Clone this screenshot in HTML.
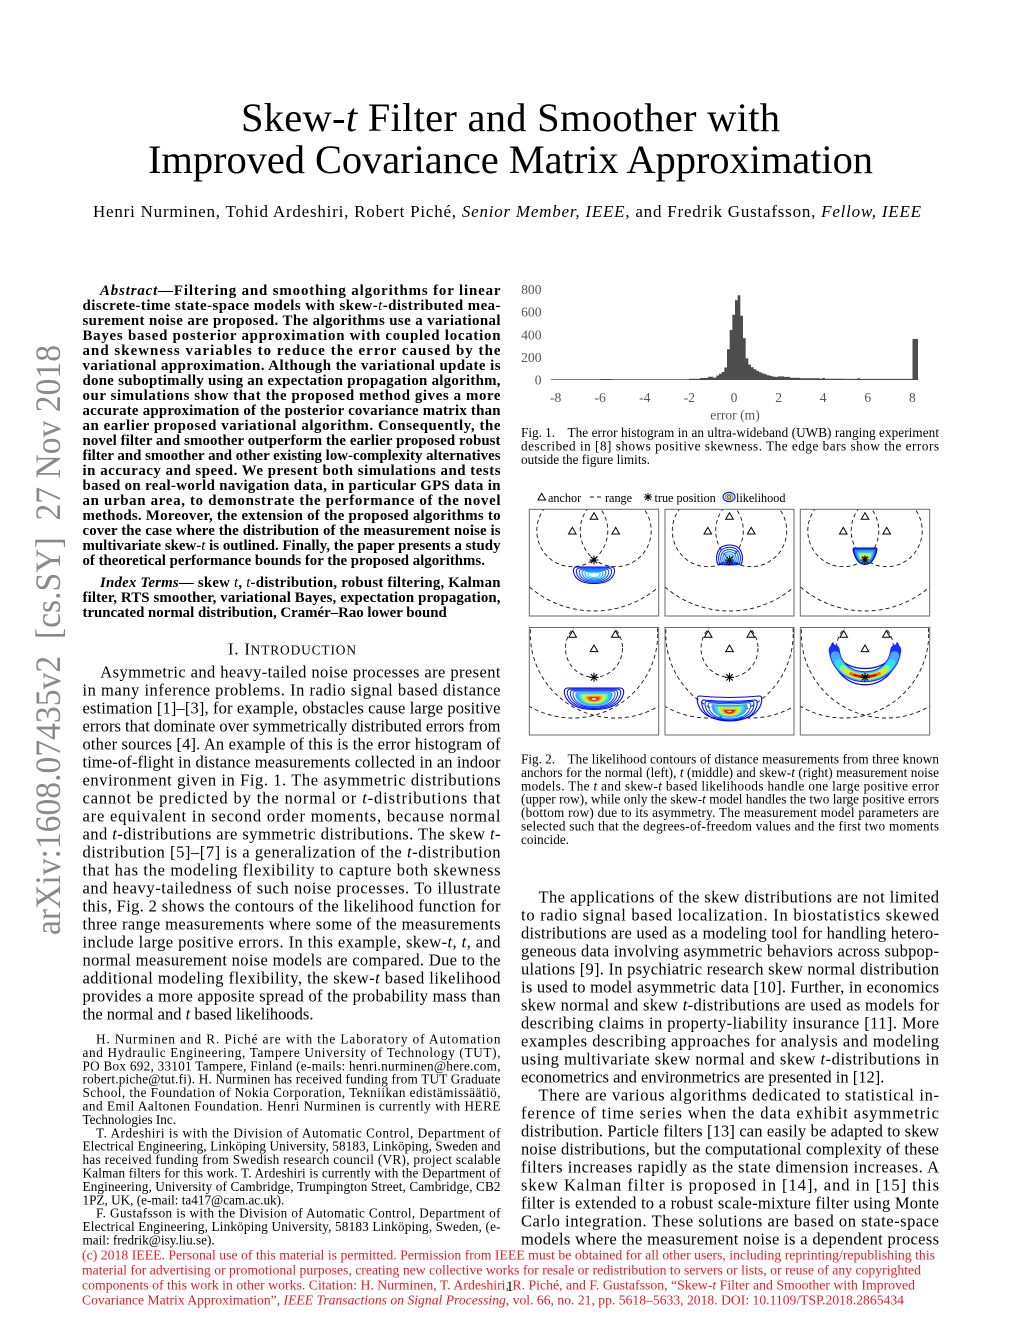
<!DOCTYPE html>
<html>
<head>
<meta charset="utf-8">
<style>
html,body{margin:0;padding:0;background:#fff;}
svg{display:block;}
text{font-family:"Liberation Serif","DejaVu Serif",serif;fill:#000;}
.bd{font-size:16.5px;}
.ab{font-size:14.85px;font-weight:bold;}
.fn{font-size:13.2px;}
.cp{font-size:13.2px;}
.ft{font-size:14px;fill:#e21f26;}
.i{font-style:italic;}
.in{font-style:italic;font-weight:normal;}
.ax{font-size:13.6px;fill:#555;}
.lg{font-size:12.2px;}
.ds{fill:none;stroke:#111;stroke-width:0.9;stroke-dasharray:4 3;}
.tri{fill:none;stroke:#000;stroke-width:1;}
.ast{fill:none;stroke:#000;stroke-width:1.1;}
.frm{fill:none;stroke:#6a6a6a;stroke-width:1;}
</style>
</head>
<body>
<svg width="1020" height="1320" viewBox="0 0 1020 1320" xmlns="http://www.w3.org/2000/svg">
<rect x="0" y="0" width="1020" height="1320" fill="#fff"/>
<defs>
  <clipPath id="c1"><rect x="529.3" y="509.3" width="129.4" height="106.7"/></clipPath>
  <clipPath id="c2"><rect x="665" y="509.3" width="129" height="106.7"/></clipPath>
  <clipPath id="c3"><rect x="800.3" y="509.3" width="129.4" height="106.7"/></clipPath>
  <clipPath id="c4"><rect x="529.3" y="627.5" width="129.4" height="107.5"/></clipPath>
  <clipPath id="c5"><rect x="665" y="627.5" width="129" height="107.5"/></clipPath>
  <clipPath id="c6"><rect x="800.3" y="627.5" width="129.4" height="107.5"/></clipPath>
  <g id="tb">
    <ellipse cx="572.3" cy="530.7" rx="35.5" ry="36" class="ds"/>
    <ellipse cx="615.7" cy="530.7" rx="35.5" ry="36" class="ds"/>
    <ellipse cx="594" cy="516" rx="97" ry="95" class="ds"/>
    <path class="tri" d="M590.2,519.3 L594,512.7 L597.8,519.3 Z M568.5,534 L572.3,527.4 L576.1,534 Z M611.9,534 L615.7,527.4 L619.5,534 Z"/>
  </g>
  <g id="bb">
    <ellipse cx="594" cy="648.3" rx="28.5" ry="29" class="ds"/>
    <ellipse cx="572.7" cy="634" rx="85" ry="84" class="ds"/>
    <ellipse cx="615.3" cy="634" rx="85" ry="84" class="ds"/>
    <path class="tri" d="M568.9,637.3 L572.7,630.7 L576.5,637.3 Z M611.5,637.3 L615.3,630.7 L619.1,637.3 Z M590.2,651.6 L594,645 L597.8,651.6 Z"/>
  </g>
  <path id="as" class="ast" d="M-4.5,0 H4.5 M0,-4.5 V4.5 M-3.2,-3.2 L3.2,3.2 M-3.2,3.2 L3.2,-3.2"/>
</defs>

<!-- arXiv sidebar -->
<text transform="translate(60,935) rotate(-90)" font-size="36" style="fill:#8a8a8a" textLength="590" lengthAdjust="spacingAndGlyphs">arXiv:1608.07435v2&#160;&#160;[cs.SY]&#160;&#160;27 Nov 2018</text>

<!-- Title -->
<text x="241" y="131" font-size="40.5" textLength="539">Skew-<tspan class="i">t</tspan> Filter and Smoother with</text>
<text x="148" y="173" font-size="40.5" textLength="725">Improved Covariance Matrix Approximation</text>
<text x="93" y="217" font-size="17" textLength="828">Henri Nurminen, Tohid Ardeshiri, Robert Piché, <tspan class="i">Senior Member, IEEE</tspan>, and Fredrik Gustafsson, <tspan class="i">Fellow, IEEE</tspan></text>

<!-- Abstract -->
<text class="ab" x="100" y="295" textLength="400.5"><tspan class="i">Abstract</tspan>—Filtering and smoothing algorithms for linear</text>
<text class="ab" x="82.5" y="310" textLength="418">discrete-time state-space models with skew-<tspan class="in">t</tspan>-distributed mea-</text>
<text class="ab" x="82.5" y="325" textLength="418">surement noise are proposed. The algorithms use a variational</text>
<text class="ab" x="82.5" y="340" textLength="418">Bayes based posterior approximation with coupled location</text>
<text class="ab" x="82.5" y="355" textLength="418">and skewness variables to reduce the error caused by the</text>
<text class="ab" x="82.5" y="370" textLength="418">variational approximation. Although the variational update is</text>
<text class="ab" x="82.5" y="385" textLength="418">done suboptimally using an expectation propagation algorithm,</text>
<text class="ab" x="82.5" y="400" textLength="418">our simulations show that the proposed method gives a more</text>
<text class="ab" x="82.5" y="415" textLength="418">accurate approximation of the posterior covariance matrix than</text>
<text class="ab" x="82.5" y="430" textLength="418">an earlier proposed variational algorithm. Consequently, the</text>
<text class="ab" x="82.5" y="445" textLength="418">novel filter and smoother outperform the earlier proposed robust</text>
<text class="ab" x="82.5" y="460" textLength="418">filter and smoother and other existing low-complexity alternatives</text>
<text class="ab" x="82.5" y="475" textLength="418">in accuracy and speed. We present both simulations and tests</text>
<text class="ab" x="82.5" y="490" textLength="418">based on real-world navigation data, in particular GPS data in</text>
<text class="ab" x="82.5" y="505" textLength="418">an urban area, to demonstrate the performance of the novel</text>
<text class="ab" x="82.5" y="520" textLength="418">methods. Moreover, the extension of the proposed algorithms to</text>
<text class="ab" x="82.5" y="535" textLength="418">cover the case where the distribution of the measurement noise is</text>
<text class="ab" x="82.5" y="550" textLength="418">multivariate skew-<tspan class="in">t</tspan> is outlined. Finally, the paper presents a study</text>
<text class="ab" x="82.5" y="565">of theoretical performance bounds for the proposed algorithms.</text>

<text class="ab" x="100" y="587" textLength="400.5"><tspan class="i">Index Terms</tspan>— skew <tspan class="in">t</tspan>, <tspan class="in">t</tspan>-distribution, robust filtering, Kalman</text>
<text class="ab" x="82.5" y="602" textLength="418">filter, RTS smoother, variational Bayes, expectation propagation,</text>
<text class="ab" x="82.5" y="617">truncated normal distribution, Cramér–Rao lower bound</text>

<text x="228" y="654.5" font-size="16.5" textLength="128">I. I<tspan font-size="13.4">NTRODUCTION</tspan></text>

<!-- Intro -->
<text class="bd" x="100.3" y="677.5" textLength="400.2">Asymmetric and heavy-tailed noise processes are present</text>
<text class="bd" x="82.5" y="695.5" textLength="418">in many inference problems. In radio signal based distance</text>
<text class="bd" x="82.5" y="713.5" textLength="418">estimation [1]–[3], for example, obstacles cause large positive</text>
<text class="bd" x="82.5" y="731.5" textLength="418">errors that dominate over symmetrically distributed errors from</text>
<text class="bd" x="82.5" y="749.5" textLength="418">other sources [4]. An example of this is the error histogram of</text>
<text class="bd" x="82.5" y="767.5" textLength="418">time-of-flight in distance measurements collected in an indoor</text>
<text class="bd" x="82.5" y="785.5" textLength="418">environment given in Fig. 1. The asymmetric distributions</text>
<text class="bd" x="82.5" y="803.5" textLength="418">cannot be predicted by the normal or <tspan class="i">t</tspan>-distributions that</text>
<text class="bd" x="82.5" y="821.5" textLength="418">are equivalent in second order moments, because normal</text>
<text class="bd" x="82.5" y="839.5" textLength="418">and <tspan class="i">t</tspan>-distributions are symmetric distributions. The skew <tspan class="i">t</tspan>-</text>
<text class="bd" x="82.5" y="857.5" textLength="418">distribution [5]–[7] is a generalization of the <tspan class="i">t</tspan>-distribution</text>
<text class="bd" x="82.5" y="875.5" textLength="418">that has the modeling flexibility to capture both skewness</text>
<text class="bd" x="82.5" y="893.5" textLength="418">and heavy-tailedness of such noise processes. To illustrate</text>
<text class="bd" x="82.5" y="911.5" textLength="418">this, Fig. 2 shows the contours of the likelihood function for</text>
<text class="bd" x="82.5" y="929.5" textLength="418">three range measurements where some of the measurements</text>
<text class="bd" x="82.5" y="947.5" textLength="418">include large positive errors. In this example, skew-<tspan class="i">t</tspan>, <tspan class="i">t</tspan>, and</text>
<text class="bd" x="82.5" y="965.5" textLength="418">normal measurement noise models are compared. Due to the</text>
<text class="bd" x="82.5" y="983.5" textLength="418">additional modeling flexibility, the skew-<tspan class="i">t</tspan> based likelihood</text>
<text class="bd" x="82.5" y="1001.5" textLength="418">provides a more apposite spread of the probability mass than</text>
<text class="bd" x="82.5" y="1019.5">the normal and <tspan class="i">t</tspan> based likelihoods.</text>

<!-- Footnotes -->
<text class="fn" x="96" y="1043.5" textLength="404.5">H. Nurminen and R. Piché are with the Laboratory of Automation</text>
<text class="fn" x="82.5" y="1056.9" textLength="418">and Hydraulic Engineering, Tampere University of Technology (TUT),</text>
<text class="fn" x="82.5" y="1070.3" textLength="418">PO Box 692, 33101 Tampere, Finland (e-mails: henri.nurminen@here.com,</text>
<text class="fn" x="82.5" y="1083.7" textLength="418">robert.piche@tut.fi). H. Nurminen has received funding from TUT Graduate</text>
<text class="fn" x="82.5" y="1097.1" textLength="418">School, the Foundation of Nokia Corporation, Tekniikan edistämissäätiö,</text>
<text class="fn" x="82.5" y="1110.5" textLength="418">and Emil Aaltonen Foundation. Henri Nurminen is currently with HERE</text>
<text class="fn" x="82.5" y="1123.9">Technologies Inc.</text>
<text class="fn" x="96" y="1137.3" textLength="404.5">T. Ardeshiri is with the Division of Automatic Control, Department of</text>
<text class="fn" x="82.5" y="1150.7" textLength="418">Electrical Engineering, Linköping University, 58183, Linköping, Sweden and</text>
<text class="fn" x="82.5" y="1164.1" textLength="418">has received funding from Swedish research council (VR), project scalable</text>
<text class="fn" x="82.5" y="1177.5" textLength="418">Kalman filters for this work. T. Ardeshiri is currently with the Department of</text>
<text class="fn" x="82.5" y="1190.9" textLength="418">Engineering, University of Cambridge, Trumpington Street, Cambridge, CB2</text>
<text class="fn" x="82.5" y="1204.3">1PZ, UK, (e-mail: ta417@cam.ac.uk).</text>
<text class="fn" x="96" y="1217.7" textLength="404.5">F. Gustafsson is with the Division of Automatic Control, Department of</text>
<text class="fn" x="82.5" y="1231.1" textLength="418">Electrical Engineering, Linköping University, 58183 Linköping, Sweden, (e-</text>
<text class="fn" x="82.5" y="1244.5">mail: fredrik@isy.liu.se).</text>

<!-- Fig 1 histogram -->
<path fill="#4d4d4d" d="M551,380 V379.3 H600 V379 H612 V379.3 H689 V378.8 H700 V378 H708 V376.8 H713 V377.6 H716.3 V375.5 H719 V373.7 H721.67 V372 H724.33 V367.5 H727 V349.3 H729.67 V329.9 H732.33 V314.8 H735 V300.3 H737.67 V295.2 H740.33 V315.7 H743 V338.1 H745.67 V358.4 H748.33 V364.6 H751 V367.3 H753.67 V369.2 H756.33 V370.9 H759 V372.3 H761.67 V373.4 H764.33 V374.3 H767 V375.2 H769.67 V375.9 H772.33 V376.6 H775 V376.9 H778 V376.4 H784 V376.9 H790 V377.8 H800 V378.3 H820 V378.7 H822 V378 H825 V378.7 H845 V378.9 H857 V378.3 H860 V378.9 H912.5 V339 H918 V380 Z"/>
<text class="ax" x="541.5" y="294" text-anchor="end">800</text>
<text class="ax" x="541.5" y="316.7" text-anchor="end">600</text>
<text class="ax" x="541.5" y="339.4" text-anchor="end">400</text>
<text class="ax" x="541.5" y="362" text-anchor="end">200</text>
<text class="ax" x="541.5" y="384.7" text-anchor="end">0</text>
<text class="ax" x="555.6" y="402" text-anchor="middle">-8</text>
<text class="ax" x="600.2" y="402" text-anchor="middle">-6</text>
<text class="ax" x="644.8" y="402" text-anchor="middle">-4</text>
<text class="ax" x="689.4" y="402" text-anchor="middle">-2</text>
<text class="ax" x="734" y="402" text-anchor="middle">0</text>
<text class="ax" x="778.6" y="402" text-anchor="middle">2</text>
<text class="ax" x="823.2" y="402" text-anchor="middle">4</text>
<text class="ax" x="867.8" y="402" text-anchor="middle">6</text>
<text class="ax" x="912.4" y="402" text-anchor="middle">8</text>
<text class="ax" x="735" y="419.5" text-anchor="middle" font-size="14.5">error (m)</text>

<text class="cp" x="521" y="437">Fig. 1.</text>
<text class="cp" x="567.5" y="437" textLength="371.5">The error histogram in an ultra-wideband (UWB) ranging experiment</text>
<text class="cp" x="521" y="450.4" textLength="418">described in [8] shows positive skewness. The edge bars show the errors</text>
<text class="cp" x="521" y="463.8">outside the figure limits.</text>

<!-- Fig 2 legend -->
<path class="tri" d="M537.9,500 L541.7,493.4 L545.5,500 Z"/>
<text class="lg" x="548" y="502">anchor</text>
<path class="ds" d="M590,497 H603"/>
<text class="lg" x="605" y="502">range</text>
<use href="#as" transform="translate(648,497) scale(0.9)"/>
<text class="lg" x="654.5" y="502">true position</text>
<ellipse cx="729" cy="497" rx="6" ry="4.6" fill="none" stroke="#1a1aff" stroke-width="1.2"/>
<ellipse cx="729" cy="497" rx="3.8" ry="2.8" fill="none" stroke="#3cb43c" stroke-width="1.1"/>
<ellipse cx="729" cy="497" rx="1.8" ry="1.2" fill="none" stroke="#e01010" stroke-width="1"/>
<text class="lg" x="736" y="502">likelihood</text>

<!-- Panel 1 top: normal -->
<g clip-path="url(#c1)">
  <use href="#tb"/>
  <g transform="translate(594,575)" fill="none" stroke-width="1">
    <path vector-effect="non-scaling-stroke" stroke="#0000ff" d="M-17,-8 L17,-8 Q21,-8 20.5,-3 Q18,8.5 0,8.5 Q-18,8.5 -20.5,-3 Q-21,-8 -17,-8 Z"/>
    <path vector-effect="non-scaling-stroke" stroke="#0020ff" transform="scale(0.86)" d="M-17,-8 L17,-8 Q21,-8 20.5,-3 Q18,8.5 0,8.5 Q-18,8.5 -20.5,-3 Q-21,-8 -17,-8 Z"/>
    <path vector-effect="non-scaling-stroke" stroke="#0050ff" transform="scale(0.72)" d="M-17,-8 L17,-8 Q21,-8 20.5,-3 Q18,8.5 0,8.5 Q-18,8.5 -20.5,-3 Q-21,-8 -17,-8 Z"/>
    <path vector-effect="non-scaling-stroke" stroke="#0080ff" transform="scale(0.58)" d="M-17,-8 L17,-8 Q21,-8 20.5,-3 Q18,8.5 0,8.5 Q-18,8.5 -20.5,-3 Q-21,-8 -17,-8 Z"/>
    <path vector-effect="non-scaling-stroke" stroke="#00a8ff" transform="scale(0.44)" d="M-17,-8 L17,-8 Q21,-8 20.5,-3 Q18,8.5 0,8.5 Q-18,8.5 -20.5,-3 Q-21,-8 -17,-8 Z"/>
    <path vector-effect="non-scaling-stroke" stroke="#10d0ff" transform="scale(0.3)" d="M-17,-8 L17,-8 Q21,-8 20.5,-3 Q18,8.5 0,8.5 Q-18,8.5 -20.5,-3 Q-21,-8 -17,-8 Z"/>
  </g>
  <use href="#as" transform="translate(594,560)"/>
</g>

<!-- Panel 2 top: t -->
<g clip-path="url(#c2)">
  <use href="#tb" transform="translate(135.5,0)"/>
  <g transform="translate(729.5,559)" fill="none">
    <path vector-effect="non-scaling-stroke" stroke="#0000ff" stroke-width="1.1" d="M-12,5 Q-15,-6 -8,-12 Q0,-16 8,-12 Q15,-6 12,5 Q0,7 -12,5 Z"/>
    <path vector-effect="non-scaling-stroke" stroke="#0020ff" transform="scale(0.84)" d="M-12,5 Q-15,-6 -8,-12 Q0,-16 8,-12 Q15,-6 12,5 Q0,7 -12,5 Z"/>
    <path vector-effect="non-scaling-stroke" stroke="#0040ff" transform="scale(0.68)" d="M-12,5 Q-15,-6 -8,-12 Q0,-16 8,-12 Q15,-6 12,5 Q0,7 -12,5 Z"/>
    <path vector-effect="non-scaling-stroke" stroke="#0070ff" transform="scale(0.52)" d="M-12,5 Q-15,-6 -8,-12 Q0,-16 8,-12 Q15,-6 12,5 Q0,7 -12,5 Z"/>
    <path vector-effect="non-scaling-stroke" stroke="#00a0ff" transform="scale(0.37)" d="M-12,5 Q-15,-6 -8,-12 Q0,-16 8,-12 Q15,-6 12,5 Q0,7 -12,5 Z"/>
    <path vector-effect="non-scaling-stroke" stroke="#00d0ff" transform="scale(0.22)" d="M-12,5 Q-15,-6 -8,-12 Q0,-16 8,-12 Q15,-6 12,5 Q0,7 -12,5 Z"/>
  </g>
  <use href="#as" transform="translate(729.5,560)"/>
</g>

<!-- Panel 3 top: skew-t -->
<g clip-path="url(#c3)">
  <use href="#tb" transform="translate(271,0)"/>
  <g transform="translate(865,559)">
    <path fill="#1a3cff" stroke="#0000d0" stroke-width="1" vector-effect="non-scaling-stroke" d="M-11,-11 L11,-11 Q12.5,-11 11.5,-7 Q8,5.5 0,5.5 Q-8,5.5 -11.5,-7 Q-12.5,-11 -11,-11 Z"/>
    <path fill="#2a8cff" transform="scale(0.84)" d="M-11,-11 L11,-11 Q12.5,-11 11.5,-7 Q8,5.5 0,5.5 Q-8,5.5 -11.5,-7 Q-12.5,-11 -11,-11 Z"/>
    <path fill="#20d8ff" transform="scale(0.68)" d="M-11,-11 L11,-11 Q12.5,-11 11.5,-7 Q8,5.5 0,5.5 Q-8,5.5 -11.5,-7 Q-12.5,-11 -11,-11 Z"/>
    <path fill="#90ff70" transform="scale(0.53)" d="M-11,-11 L11,-11 Q12.5,-11 11.5,-7 Q8,5.5 0,5.5 Q-8,5.5 -11.5,-7 Q-12.5,-11 -11,-11 Z"/>
    <path fill="#ffee20" transform="scale(0.4)" d="M-11,-11 L11,-11 Q12.5,-11 11.5,-7 Q8,5.5 0,5.5 Q-8,5.5 -11.5,-7 Q-12.5,-11 -11,-11 Z"/>
    <path fill="#ff8a00" transform="scale(0.28)" d="M-11,-11 L11,-11 Q12.5,-11 11.5,-7 Q8,5.5 0,5.5 Q-8,5.5 -11.5,-7 Q-12.5,-11 -11,-11 Z"/>
    <path fill="#e00000" transform="scale(0.16)" d="M-11,-11 L11,-11 Q12.5,-11 11.5,-7 Q8,5.5 0,5.5 Q-8,5.5 -11.5,-7 Q-12.5,-11 -11,-11 Z"/>
  </g>
  <use href="#as" transform="translate(865,560)"/>
</g>

<!-- Panel 4 bottom: normal -->
<g clip-path="url(#c4)">
  <use href="#bb"/>
  <g transform="translate(594,699)">
    <path fill="none" stroke="#0000ff" stroke-width="1.1" vector-effect="non-scaling-stroke" d="M-26,-11 L26,-11 Q30.5,-11 29.5,-5 Q25,10.5 0,10.5 Q-25,10.5 -29.5,-5 Q-30.5,-11 -26,-11 Z"/>
    <path fill="none" stroke="#0010ff" stroke-width="1" vector-effect="non-scaling-stroke" transform="scale(0.9)" d="M-26,-11 L26,-11 Q30.5,-11 29.5,-5 Q25,10.5 0,10.5 Q-25,10.5 -29.5,-5 Q-30.5,-11 -26,-11 Z"/>
    <path fill="none" stroke="#0030ff" stroke-width="1" vector-effect="non-scaling-stroke" transform="scale(0.8)" d="M-26,-11 L26,-11 Q30.5,-11 29.5,-5 Q25,10.5 0,10.5 Q-25,10.5 -29.5,-5 Q-30.5,-11 -26,-11 Z"/>
    <path fill="none" stroke="#2058ff" stroke-width="1" vector-effect="non-scaling-stroke" transform="scale(0.71)" d="M-26,-11 L26,-11 Q30.5,-11 29.5,-5 Q25,10.5 0,10.5 Q-25,10.5 -29.5,-5 Q-30.5,-11 -26,-11 Z"/>
    <path fill="#40a0ff" transform="scale(0.63)" d="M-26,-11 L26,-11 Q30.5,-11 29.5,-5 Q25,10.5 0,10.5 Q-25,10.5 -29.5,-5 Q-30.5,-11 -26,-11 Z"/>
    <path fill="#28d4f0" transform="scale(0.55)" d="M-26,-11 L26,-11 Q30.5,-11 29.5,-5 Q25,10.5 0,10.5 Q-25,10.5 -29.5,-5 Q-30.5,-11 -26,-11 Z"/>
    <path fill="#60f4b0" transform="scale(0.47)" d="M-26,-11 L26,-11 Q30.5,-11 29.5,-5 Q25,10.5 0,10.5 Q-25,10.5 -29.5,-5 Q-30.5,-11 -26,-11 Z"/>
    <path fill="#c8ff40" transform="scale(0.39)" d="M-26,-11 L26,-11 Q30.5,-11 29.5,-5 Q25,10.5 0,10.5 Q-25,10.5 -29.5,-5 Q-30.5,-11 -26,-11 Z"/>
    <path fill="#ffc400" transform="scale(0.31)" d="M-26,-11 L26,-11 Q30.5,-11 29.5,-5 Q25,10.5 0,10.5 Q-25,10.5 -29.5,-5 Q-30.5,-11 -26,-11 Z"/>
    <path fill="#ff6000" transform="scale(0.23)" d="M-26,-11 L26,-11 Q30.5,-11 29.5,-5 Q25,10.5 0,10.5 Q-25,10.5 -29.5,-5 Q-30.5,-11 -26,-11 Z"/>
    <path fill="#e00000" transform="scale(0.15)" d="M-26,-11 L26,-11 Q30.5,-11 29.5,-5 Q25,10.5 0,10.5 Q-25,10.5 -29.5,-5 Q-30.5,-11 -26,-11 Z"/>
    <ellipse cx="0" cy="0" rx="2.6" ry="0.9" fill="#fff"/>
  </g>
  <use href="#as" transform="translate(594,677.3)"/>
</g>

<!-- Panel 5 bottom: t -->
<g clip-path="url(#c5)">
  <use href="#bb" transform="translate(135.5,0)"/>
  <g transform="translate(729.5,710)">
    <path fill="none" stroke="#0000ff" stroke-width="1.1" d="M-30,-14 Q0,-11 30,-14 Q33,-14 32,-8 Q28,10 0,10.5 Q-28,10 -32,-8 Q-33,-14 -30,-14 Z"/>
  </g>
  <g transform="translate(729.5,712)">
    <path fill="none" stroke="#0000ff" stroke-width="1" vector-effect="non-scaling-stroke" transform="scale(0.86)" d="M-30,-14 Q0,-11 30,-14 Q33,-14 32,-8 Q28,10 0,10.5 Q-28,10 -32,-8 Q-33,-14 -30,-14 Z"/>
    <path fill="none" stroke="#0028ff" stroke-width="1" vector-effect="non-scaling-stroke" transform="scale(0.76)" d="M-30,-14 Q0,-11 30,-14 Q33,-14 32,-8 Q28,10 0,10.5 Q-28,10 -32,-8 Q-33,-14 -30,-14 Z"/>
    <path fill="none" stroke="#0058ff" stroke-width="1" vector-effect="non-scaling-stroke" transform="scale(0.66)" d="M-30,-14 Q0,-11 30,-14 Q33,-14 32,-8 Q28,10 0,10.5 Q-28,10 -32,-8 Q-33,-14 -30,-14 Z"/>
    <path fill="#40a0ff" transform="scale(0.56)" d="M-30,-14 Q0,-11 30,-14 Q33,-14 32,-8 Q28,10 0,10.5 Q-28,10 -32,-8 Q-33,-14 -30,-14 Z"/>
    <path fill="#30dcec" transform="scale(0.46)" d="M-30,-14 Q0,-11 30,-14 Q33,-14 32,-8 Q28,10 0,10.5 Q-28,10 -32,-8 Q-33,-14 -30,-14 Z"/>
    <path fill="#a8ff60" transform="scale(0.37)" d="M-30,-14 Q0,-11 30,-14 Q33,-14 32,-8 Q28,10 0,10.5 Q-28,10 -32,-8 Q-33,-14 -30,-14 Z"/>
    <path fill="#ffd000" transform="scale(0.28)" d="M-30,-14 Q0,-11 30,-14 Q33,-14 32,-8 Q28,10 0,10.5 Q-28,10 -32,-8 Q-33,-14 -30,-14 Z"/>
    <path fill="#ff6000" transform="scale(0.2)" d="M-30,-14 Q0,-11 30,-14 Q33,-14 32,-8 Q28,10 0,10.5 Q-28,10 -32,-8 Q-33,-14 -30,-14 Z"/>
    <path fill="#e00000" transform="scale(0.13)" d="M-30,-14 Q0,-11 30,-14 Q33,-14 32,-8 Q28,10 0,10.5 Q-28,10 -32,-8 Q-33,-14 -30,-14 Z"/>
    <ellipse cx="0" cy="-0.5" rx="2.4" ry="0.8" fill="#fff"/>
  </g>
  <use href="#as" transform="translate(729.5,677.3)"/>
</g>

<!-- Panel 6 bottom: skew-t crescent -->
<g clip-path="url(#c6)">
  <use href="#bb" transform="translate(271,0)"/>
  <path fill="#fff" stroke="#0000ff" stroke-width="1.2" d="M833,643 Q831,644 832,648 C832,697 898,697 898,648 Q899,644 897,643 C895,677 835,677 833,643 Z"/>
  <g fill="none" stroke-linecap="round">
    <path pathLength="100" stroke="#1a30ff" stroke-width="11" stroke-dasharray="92 300" stroke-dashoffset="-4" d="M834,646 C834,687 896,687 896,646"/>
    <path pathLength="100" stroke="#4aa8ff" stroke-width="9" stroke-dasharray="80 300" stroke-dashoffset="-10" d="M834,646 C834,687 896,687 896,646"/>
    <path pathLength="100" stroke="#30e0f0" stroke-width="7.5" stroke-dasharray="64 300" stroke-dashoffset="-18" d="M834,646 C834,687 896,687 896,646"/>
    <path pathLength="100" stroke="#90ff70" stroke-width="6" stroke-dasharray="50 300" stroke-dashoffset="-25" d="M834,646 C834,687 896,687 896,646"/>
    <path pathLength="100" stroke="#ffe000" stroke-width="4.6" stroke-dasharray="40 300" stroke-dashoffset="-30" d="M834,646 C834,687 896,687 896,646"/>
    <path pathLength="100" stroke="#ff7000" stroke-width="3.3" stroke-dasharray="30 300" stroke-dashoffset="-35" d="M834,646 C834,687 896,687 896,646"/>
    <path pathLength="100" stroke="#dd0000" stroke-width="2.2" stroke-dasharray="22 300" stroke-dashoffset="-39" d="M834,646 C834,687 896,687 896,646"/>
  </g>
  <use href="#as" transform="translate(865,677.3)"/>
</g>

<!-- Panel frames -->
<rect class="frm" x="529.3" y="509.3" width="129.4" height="106.7"/>
<rect class="frm" x="665" y="509.3" width="129" height="106.7"/>
<rect class="frm" x="800.3" y="509.3" width="129.4" height="106.7"/>
<rect class="frm" x="529.3" y="627.5" width="129.4" height="107.5"/>
<rect class="frm" x="665" y="627.5" width="129" height="107.5"/>
<rect class="frm" x="800.3" y="627.5" width="129.4" height="107.5"/>

<!-- Fig 2 caption -->
<text class="cp" x="521" y="763.5">Fig. 2.</text>
<text class="cp" x="567.5" y="763.5" textLength="371.5">The likelihood contours of distance measurements from three known</text>
<text class="cp" x="521" y="776.9" textLength="418">anchors for the normal (left), <tspan class="i">t</tspan> (middle) and skew-<tspan class="i">t</tspan> (right) measurement noise</text>
<text class="cp" x="521" y="790.3" textLength="418">models. The <tspan class="i">t</tspan> and skew-<tspan class="i">t</tspan> based likelihoods handle one large positive error</text>
<text class="cp" x="521" y="803.7" textLength="418">(upper row), while only the skew-<tspan class="i">t</tspan> model handles the two large positive errors</text>
<text class="cp" x="521" y="817.1" textLength="418">(bottom row) due to its asymmetry. The measurement model parameters are</text>
<text class="cp" x="521" y="830.5" textLength="418">selected such that the degrees-of-freedom values and the first two moments</text>
<text class="cp" x="521" y="843.9">coincide.</text>

<!-- Right column body -->
<text class="bd" x="538.5" y="902.5" textLength="400.5">The applications of the skew distributions are not limited</text>
<text class="bd" x="521" y="920.5" textLength="418">to radio signal based localization. In biostatistics skewed</text>
<text class="bd" x="521" y="938.5" textLength="418">distributions are used as a modeling tool for handling hetero-</text>
<text class="bd" x="521" y="956.5" textLength="418">geneous data involving asymmetric behaviors across subpop-</text>
<text class="bd" x="521" y="974.5" textLength="418">ulations [9]. In psychiatric research skew normal distribution</text>
<text class="bd" x="521" y="992.5" textLength="418">is used to model asymmetric data [10]. Further, in economics</text>
<text class="bd" x="521" y="1010.5" textLength="418">skew normal and skew <tspan class="i">t</tspan>-distributions are used as models for</text>
<text class="bd" x="521" y="1028.5" textLength="418">describing claims in property-liability insurance [11]. More</text>
<text class="bd" x="521" y="1046.5" textLength="418">examples describing approaches for analysis and modeling</text>
<text class="bd" x="521" y="1064.5" textLength="418">using multivariate skew normal and skew <tspan class="i">t</tspan>-distributions in</text>
<text class="bd" x="521" y="1082.5">econometrics and environmetrics are presented in [12].</text>
<text class="bd" x="538.5" y="1100.5" textLength="400.5">There are various algorithms dedicated to statistical in-</text>
<text class="bd" x="521" y="1118.5" textLength="418">ference of time series when the data exhibit asymmetric</text>
<text class="bd" x="521" y="1136.5" textLength="418">distribution. Particle filters [13] can easily be adapted to skew</text>
<text class="bd" x="521" y="1154.5" textLength="418">noise distributions, but the computational complexity of these</text>
<text class="bd" x="521" y="1172.5" textLength="418">filters increases rapidly as the state dimension increases. A</text>
<text class="bd" x="521" y="1190.5" textLength="418">skew Kalman filter is proposed in [14], and in [15] this</text>
<text class="bd" x="521" y="1208.5" textLength="418">filter is extended to a robust scale-mixture filter using Monte</text>
<text class="bd" x="521" y="1226.5" textLength="418">Carlo integration. These solutions are based on state-space</text>
<text class="bd" x="521" y="1244.5" textLength="418">models where the measurement noise is a dependent process</text>

<!-- Footer (red) -->
<text class="ft" x="82" y="1259.5" textLength="853" lengthAdjust="spacingAndGlyphs">(c) 2018 IEEE. Personal use of this material is permitted. Permission from IEEE must be obtained for all other users, including reprinting/republishing this</text>
<text class="ft" x="82" y="1274.5" textLength="839" lengthAdjust="spacingAndGlyphs">material for advertising or promotional purposes, creating new collective works for resale or redistribution to servers or lists, or reuse of any copyrighted</text>
<text class="ft" x="82" y="1289.5" textLength="833" lengthAdjust="spacingAndGlyphs">components of this work in other works. Citation: H. Nurminen, T. Ardeshiri, R. Piché, and F. Gustafsson, “Skew-<tspan class="i">t</tspan> Filter and Smoother with Improved</text>
<text class="ft" x="82" y="1304.5" textLength="822" lengthAdjust="spacingAndGlyphs">Covariance Matrix Approximation”, <tspan class="i">IEEE Transactions on Signal Processing</tspan>, vol. 66, no. 21, pp. 5618–5633, 2018. DOI: 10.1109/TSP.2018.2865434</text>
<text x="506" y="1291" font-size="15">1</text>
</svg>
</body>
</html>
